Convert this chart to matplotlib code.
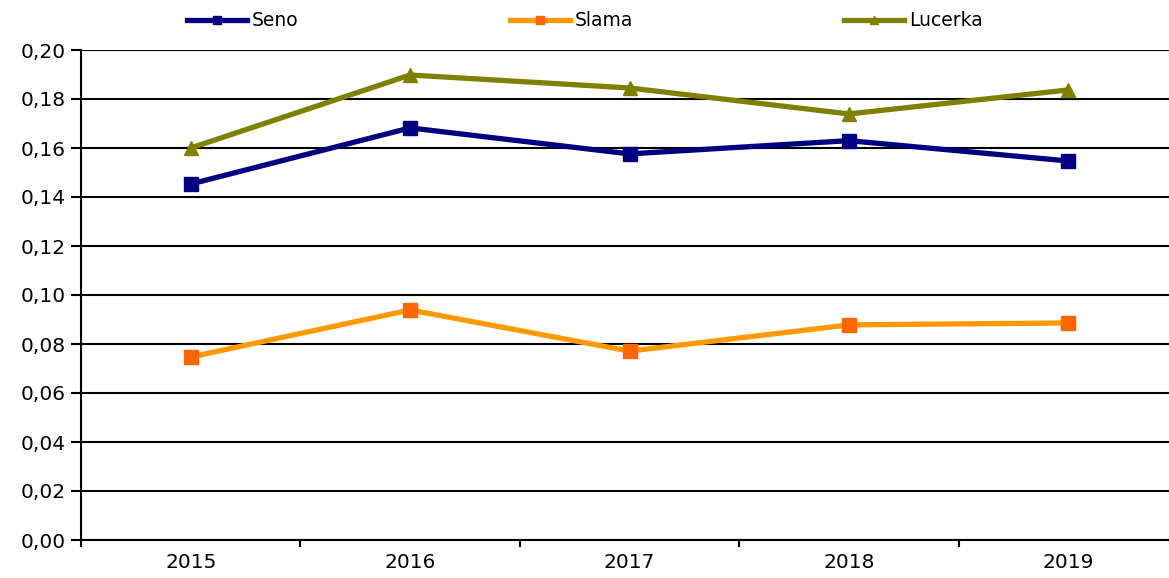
import matplotlib
matplotlib.use("Agg")
import matplotlib.pyplot as plt
from matplotlib.ticker import FixedLocator, FuncFormatter

years = ["2015", "2016", "2017", "2018", "2019"]
seno = [0.1453, 0.1682, 0.1576, 0.1630, 0.1547]
slama = [0.0747, 0.0939, 0.0771, 0.0878, 0.0886]
lucerka = [0.1600, 0.1898, 0.1845, 0.1739, 0.1837]
yticks = [0.00, 0.02, 0.04, 0.06, 0.08, 0.10, 0.12, 0.14, 0.16, 0.18, 0.20]

plt.rcParams['font.family'] = ['DejaVu Sans']

W, H = 1169, 578
fig = plt.figure(figsize=(W / 100, H / 100), dpi=100)
ax = fig.add_axes([81 / W, 38 / H, (1178 - 81) / W, 490 / H])

x = list(range(len(years)))
ax.plot(x, seno, color="#000080", lw=3.8, marker="s", ms=10,
        mfc="#000080", mec="#000080", label="Seno", zorder=4)
ax.plot(x, slama, color="#FF9900", lw=3.8, marker="s", ms=10,
        mfc="#FF6600", mec="#FF6600", label="Slama", zorder=4)
ax.plot(x, lucerka, color="#808000", lw=3.8, marker="^", ms=10,
        mfc="#808000", mec="#808000", label="Lucerka", zorder=4)

ax.set_xlim(-0.5, len(years) - 0.5)
ax.set_ylim(0, 0.20)
ax.set_yticks(yticks)
ax.yaxis.set_major_formatter(FuncFormatter(lambda v, p: f"{v:.2f}".replace(".", ",")))
ax.grid(axis="y", color="black", lw=1.5, zorder=1)
ax.set_axisbelow(True)

ax.xaxis.set_major_locator(FixedLocator([i - 0.5 for i in range(len(years) + 1)]))
ax.xaxis.set_minor_locator(FixedLocator(x))
ax.set_xticklabels([])
ax.set_xticks(x, minor=True)
ax.set_xticklabels(years, minor=True)
ax.tick_params(axis="x", which="major", length=5, width=1.5, direction="out")
ax.tick_params(axis="x", which="minor", length=0, pad=9, labelsize=14.5)
ax.tick_params(axis="y", length=7, width=1.5, direction="out", pad=4, labelsize=14.5)

for s in ["top", "right"]:
    ax.spines[s].set_visible(False)
for s in ["left", "bottom"]:
    ax.spines[s].set_linewidth(1.5)
    ax.spines[s].set_color("black")

leg = fig.legend(loc="center left", bbox_to_anchor=(187 / W, 1 - 21 / H), ncol=3,
                 frameon=False, fontsize=13.5, handlelength=3.2, handletextpad=0.27,
                 columnspacing=11.25, markerscale=0.55, borderaxespad=0, borderpad=0)

fig.savefig("out.png", dpi=100)
